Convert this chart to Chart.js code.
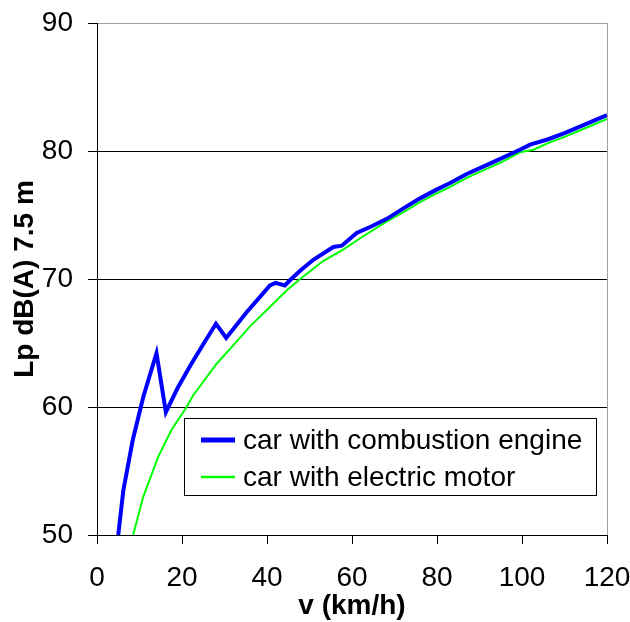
<!DOCTYPE html>
<html>
<head>
<meta charset="utf-8">
<script src="https://cdn.jsdelivr.net/npm/chart.js@4"></script>
<style>
  body { margin: 0; background: #fff; }
  #wrap { width: 630px; height: 622px; }
</style>
</head>
<body>
<div id="wrap"><canvas id="noiseChart" width="630" height="622"></canvas></div>
<script>
// speed (km/h) and sound level (dB(A) at 7.5 m)
const combustionSpeed = [5, 6.2, 8.4, 10.9, 14, 16.2, 19, 21.9, 25, 28, 30.4, 35.2, 40.7, 42, 44.2, 45.4, 48, 50.9, 55.6, 57.6, 61.1, 64.5, 68.2, 72, 76, 80, 83.1, 87, 91, 95, 99.5, 101.9, 106, 110, 115, 120];
const combustionLevel = [50, 53.5, 57.4, 60.8, 64.2, 59.6, 61.5, 63.2, 64.9, 66.5, 65.4, 67.4, 69.5, 69.7, 69.5, 69.9, 70.7, 71.5, 72.5, 72.6, 73.6, 74.1, 74.7, 75.5, 76.3, 77.0, 77.5, 78.2, 78.8, 79.4, 80.1, 80.5, 80.9, 81.4, 82.1, 82.8];

const electricSpeed = [8.5, 10.9, 14.4, 17.5, 21.1, 22.6, 28.2, 32, 36, 40, 44.6, 47.8, 53.2, 57.9, 62, 68.2, 72, 76, 80, 83.1, 87, 91, 95, 99.5, 102.7, 106, 110, 115, 120];
const electricLevel = [50, 53, 56.1, 58.2, 60.0, 60.9, 63.4, 64.8, 66.3, 67.6, 69.1, 70.0, 71.4, 72.3, 73.2, 74.5, 75.2, 76.0, 76.7, 77.2, 77.9, 78.5, 79.1, 79.9, 80.1, 80.6, 81.1, 81.8, 82.5];

const seriesNames = ["car with combustion engine", "car with electric motor"];
const xTicks = [0, 20, 40, 60, 80, 100, 120];
const yTicks = [50, 60, 70, 80, 90];

const FONT = "'Liberation Sans', Arial, sans-serif";

const toPoints = (xs, ys) => xs.map((x, i) => ({ x: x, y: ys[i] }));

// legend sits inside the plot, so draw it by hand
const boxLegend = {
    id: 'boxLegend',
    afterDraw(chart) {
        const ctx = chart.ctx;
        const sets = chart.data.datasets;
        const left = 184, top = 418, w = 412, h = 77;
        ctx.save();
        ctx.fillStyle = '#fff';
        ctx.fillRect(left, top, w, h);
        ctx.strokeStyle = '#000';
        ctx.lineWidth = 1;
        ctx.strokeRect(left + 0.5, top + 0.5, w, h);
        ctx.font = '28px ' + FONT;
        ctx.textBaseline = 'middle';
        ctx.fillStyle = '#000';
        const rows = [top + 22, top + 59];
        sets.forEach((ds, i) => {
            ctx.strokeStyle = ds.borderColor;
            ctx.lineWidth = i === 0 ? 5 : 2.5;
            ctx.beginPath();
            ctx.moveTo(left + 17, rows[i]);
            ctx.lineTo(left + 51, rows[i]);
            ctx.stroke();
            ctx.fillText(ds.label, left + 59, rows[i] + 1);
        });
        ctx.restore();
    }
};

new Chart(document.getElementById('noiseChart'), {
    type: 'line',
    data: {
        datasets: [
            {
                label: seriesNames[0],
                data: toPoints(combustionSpeed, combustionLevel),
                borderColor: '#0000ff',
                borderWidth: 4,
                pointRadius: 0,
                tension: 0
            },
            {
                label: seriesNames[1],
                data: toPoints(electricSpeed, electricLevel),
                borderColor: '#00ff00',
                borderWidth: 2,
                pointRadius: 0,
                tension: 0
            }
        ]
    },
    options: {
        responsive: false,
        animation: false,
        layout: { padding: { top: 23, right: 23, left: 0, bottom: 0 } },
        plugins: { legend: { display: false }, tooltip: { enabled: false } },
        scales: {
            x: {
                type: 'linear',
                min: 0,
                max: 120,
                afterBuildTicks: s => { s.ticks = xTicks.map(v => ({ value: v })); },
                afterFit: s => { s.height = 87; s.paddingLeft = 0; s.paddingRight = 0; },
                ticks: { color: '#000', font: { family: FONT, size: 28 }, padding: 17, maxRotation: 0 },
                grid: {
                    color: c => (c.tick && c.tick.value === 120) ? '#a0a0a0' : 'rgba(0,0,0,0)',
                    tickColor: '#000',
                    tickLength: 9
                },
                border: { display: true, color: '#000', width: 1 },
                title: {
                    display: true,
                    text: 'v (km/h)',
                    color: '#000',
                    font: { family: FONT, size: 28, weight: 'bold', lineHeight: 1.1 },
                    padding: { top: 0, bottom: 0 }
                }
            },
            y: {
                min: 50,
                max: 90,
                afterBuildTicks: s => { s.ticks = yTicks.map(v => ({ value: v })); },
                afterFit: s => { s.width = 97; s.paddingTop = 0; s.paddingBottom = 0; },
                ticks: { color: '#000', font: { family: FONT, size: 28 }, padding: 15 },
                grid: {
                    color: c => (c.tick && c.tick.value === 90) ? '#a0a0a0' : '#000',
                    tickColor: '#000',
                    tickLength: 9
                },
                border: { display: true, color: '#000', width: 1 },
                title: {
                    display: true,
                    text: 'Lp dB(A) 7.5 m',
                    color: '#000',
                    font: { family: FONT, size: 28, weight: 'bold', lineHeight: 1.1 },
                    padding: { top: 10, bottom: 0 }
                }
            }
        }
    },
    plugins: [boxLegend]
});
</script>
</body>
</html>
